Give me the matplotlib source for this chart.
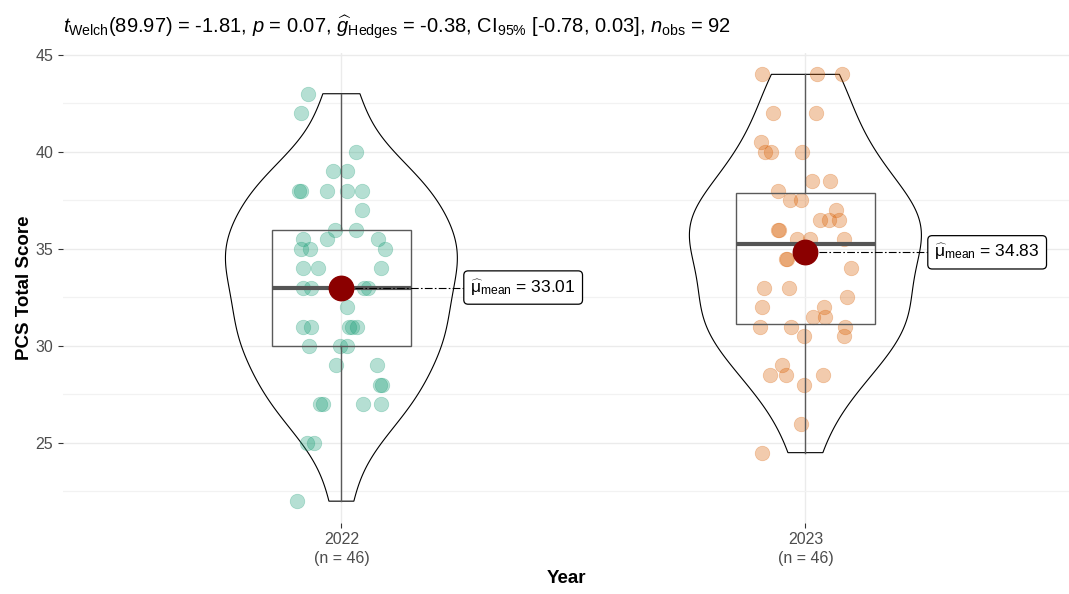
import numpy as np
import matplotlib

matplotlib.use("Agg")
import matplotlib.pyplot as plt


# PCS total scores per year
years = ["2022", "2023"]
scores_2022 = [
    43, 42, 40, 39, 39, 38, 38, 38, 38, 38, 37, 36, 36,
    35.5, 35.5, 35.5, 35, 35, 35, 34, 34, 34, 33, 33, 33, 33,
    32, 31, 31, 31, 31, 31, 30, 30, 30, 29, 29, 28, 28,
    27, 27, 27, 27, 25, 25, 22,
]
scores_2023 = [
    44, 44, 44, 42, 42, 40.5, 40, 40, 40, 38.5, 38.5, 38, 37.5, 37.5,
    37, 36.5, 36.5, 36.5, 36, 36, 35.5, 35.5, 35.5, 35, 34.5, 34.5,
    34, 33, 33, 32.5, 32, 32, 31.5, 31.5, 31, 31, 31, 30.5, 30.5,
    29, 28.5, 28.5, 28.5, 28, 26, 24.5,
]
# horizontal jitter of each point (x units), same order as the scores
jitter_2022 = [
    -0.072, -0.088, 0.032, -0.019, 0.013, -0.091, -0.087, -0.030, 0.013, 0.044,
    0.044, -0.014, 0.032, -0.082, -0.030, 0.079, -0.088, -0.068, 0.095,
    -0.082, -0.050, 0.085, -0.083, -0.065, 0.048, 0.057, 0.011,
    -0.083, -0.065, 0.016, 0.023, 0.034, -0.070, -0.004, 0.011,
    -0.011, 0.077, 0.084, 0.088, -0.047, -0.039, 0.047, 0.085,
    -0.075, -0.059, -0.095,
]
jitter_2023 = [
    -0.093, 0.026, 0.078, -0.069, 0.022, -0.096, -0.088, -0.075, -0.007,
    0.015, 0.053, -0.059, -0.034, -0.009, 0.065, 0.032, 0.051, 0.073,
    -0.059, -0.056, -0.019, 0.009, 0.083, 0.004, -0.042, -0.040,
    0.098, -0.089, -0.036, 0.090, -0.093, 0.040, 0.017, 0.043,
    -0.097, -0.031, 0.086, -0.002, 0.083, -0.050, -0.077, -0.041,
    0.038, -0.002, -0.009, -0.093,
]
tick_labels = ["2022\n(n = 46)", "2023\n(n = 46)"]
title = (
    r"$t_{\mathrm{Welch}}$(89.97) = -1.81, $p$ = 0.07, "
    r"$\widehat{g}_{\mathrm{Hedges}}$ = -0.38, CI$_{95\%}$ [-0.78, 0.03], "
    r"$n_{\mathrm{obs}}$ = 92"
)

colors = ["#1B9E77", "#D95F02"]

plt.rcParams["font.family"] = ["Liberation Sans", "DejaVu Sans"]
plt.rcParams["mathtext.fontset"] = "custom"
plt.rcParams["mathtext.rm"] = "Liberation Sans"
plt.rcParams["mathtext.it"] = "Liberation Sans:italic"
plt.rcParams["mathtext.bf"] = "Liberation Sans:bold"


def nrd0_density(vals: np.ndarray, grid: np.ndarray) -> np.ndarray:
    # gaussian kde with R's bw.nrd0 rule
    n = len(vals)
    q1, q3 = np.percentile(vals, [25, 75])
    bw = 0.9 * min(vals.std(ddof=1), (q3 - q1) / 1.34) * n ** -0.2
    z = (grid[:, None] - vals[None, :]) / bw
    return np.exp(-0.5 * z ** 2).sum(axis=1) / (n * bw * np.sqrt(2 * np.pi))


fig = plt.figure(figsize=(10.69, 5.94), dpi=100)
W, H = 1069, 594
ax = fig.add_axes([63 / W, 1 - 522.5 / H, (W - 63) / W, (522.5 - 53) / H])

groups = [np.array(scores_2022, float), np.array(scores_2023, float)]
jitters = [jitter_2022, jitter_2023]
positions = [1, 2]

# violins (trimmed, area-scaled, width 0.5)
curves = []
for vals in groups:
    grid = np.linspace(vals.min(), vals.max(), 512)
    curves.append((grid, nrd0_density(vals, grid)))
dmax = max(d.max() for _, d in curves)
for pos, (grid, dens) in zip(positions, curves):
    half = dens / dmax * 0.25
    xs = np.concatenate([pos - half, (pos + half)[::-1]])
    ys = np.concatenate([grid, grid[::-1]])
    ax.fill(xs, ys, facecolor="none", edgecolor="black", linewidth=0.8, zorder=2)

# jittered points
for pos, vals, jit, col in zip(positions, groups, jitters, colors):
    ax.scatter(pos + np.array(jit), vals, s=110, color=col, alpha=0.32,
               edgecolors=col, linewidths=0.5, zorder=3)

# boxplots
ax.boxplot(
    groups, positions=positions, widths=0.3, whis=1.5, showfliers=False,
    showcaps=False, patch_artist=True, manage_ticks=False, zorder=4,
    boxprops=dict(facecolor="none", edgecolor="#5A5A5A", linewidth=1.0),
    whiskerprops=dict(color="#5A5A5A", linewidth=1.0),
    medianprops=dict(color="#555555", linewidth=3.0),
)

# means with labels
for pos, vals in zip(positions, groups):
    m = vals.mean()
    lx = pos + 0.278
    ax.plot([pos, lx - 0.01], [m, m], color="black", linewidth=0.8,
            linestyle=(0, (7, 2, 1.5, 2)), zorder=5)
    ax.scatter([pos], [m], s=310, color="#8B0000", zorder=6)
    ax.text(lx, m, r"$\widehat{\mathrm{\mu}}_{\mathrm{mean}}$ = " + f"{m:.2f}",
            fontsize=12.5, ha="left", va="center", zorder=7,
            bbox=dict(boxstyle="round,pad=0.38,rounding_size=0.25",
                      facecolor="white", edgecolor="black", linewidth=0.9))

ax.set_xlim(0.4, 0.4 + (W - 63) / 464)
ax.set_ylim(20.9, 45.1)
ax.set_xticks(positions)
ax.set_xticklabels(tick_labels, linespacing=1.3)
ax.set_yticks([25, 30, 35, 40, 45])
ax.set_yticks([22.5, 27.5, 32.5, 37.5, 42.5], minor=True)
ax.tick_params(axis="both", which="major", labelsize=11.5, labelcolor="#4D4D4D",
               color="#333333", length=3.5, width=0.8)
ax.tick_params(axis="y", which="minor", length=0)
ax.grid(True, which="major", color="#EBEBEB", linewidth=1.0, zorder=0)
ax.grid(True, which="minor", axis="y", color="#F2F2F2", linewidth=0.9, zorder=0)
ax.set_axisbelow(True)
for sp in ax.spines.values():
    sp.set_visible(False)

ax.set_xlabel("Year", fontsize=13.5, fontweight="bold", labelpad=3)
ax.set_ylabel("PCS Total Score", fontsize=13.5, fontweight="bold", labelpad=2)
fig.text(63 / W, 1 - 27 / H, title, fontsize=14.5, ha="left", va="center")

fig.savefig("out.png", dpi=100)
